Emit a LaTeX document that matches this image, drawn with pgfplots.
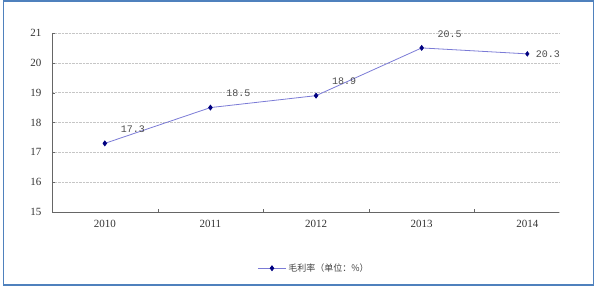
\documentclass[border=0pt]{standalone}
\usepackage{pgfplots}
\pgfplotsset{compat=1.18}
\usepackage{fontspec}
\setmainfont{Liberation Serif}
\setmonofont{Liberation Mono}
\newfontfamily\cjk{Noto Sans CJK SC}
\definecolor{framec}{HTML}{4F81BD}
\definecolor{linec}{HTML}{7B7BD6}
\definecolor{markc}{HTML}{000080}
\begin{document}
\begin{tikzpicture}[x=1pt,y=1pt]
\path (0,0) rectangle (600,288);
\draw[framec, line width=1.5pt] (3.5,3) rectangle (593.5,287);
\begin{axis}[
  name=ax,
  at={(52pt,76pt)}, anchor=south west,
  scale only axis,
  width=507pt, height=179pt,
  xmin=-0.5, xmax=4.3,
  ymin=15, ymax=21,
  xtick={0,1,2,3,4},
  xticklabels={2010,2011,2012,2013,2014},
  minor xtick={0.5,1.5,2.5,3.5},
  ytick={15,16,17,18,19,20,21},
  axis x line*=bottom,
  axis y line*=left,
  axis line style={draw=gray!80!black, line width=0.8pt},
  tick align=inside,
  major tick length=3pt,
  minor tick length=3pt,
  x tick style={draw=none},
  minor x tick style={draw=gray!80!black},
  y tick style={draw=gray!80!black},
  ymajorgrids,
  major grid style={densely dotted, gray!45, line width=0.6pt},
  tick label style={font=\fontsize{11}{12}\selectfont, text=black!80},
  /pgf/number format/assume math mode=true,
  xticklabel style={yshift=-5pt},
  yticklabel style={xshift=-7pt},
  clip=false,
  legend style={at={(0.517,-0.265)}, anchor=north, draw=none, fill=none,
    font=\cjk\fontsize{9}{10}\selectfont, text=black!75},
  legend image code/.code={
    \draw[#1, mark=none] (0pt,0pt) -- (28pt,0pt);
    \draw[#1, only marks] plot coordinates {(14pt,0pt)};
  },
]
\addplot[color=linec, line width=0.8pt,
  mark=diamond*, mark size=2.4pt, mark options={draw=markc, fill=markc},
  nodes near coords,
  point meta=explicit symbolic,
  every node near coord/.append style={font=\ttfamily\fontsize{10}{10}\selectfont, text=black!70, anchor=center, xshift=28pt, yshift=14pt},
] table[meta=lab] {
x y lab
0 17.3 17.3
1 18.5 18.5
2 18.9 18.9
3 20.5 20.5
};
\addlegendentry{毛利率（单位：\%）}
\addplot[color=linec, line width=0.8pt, forget plot] coordinates {(3,20.5) (4,20.3)};
\addplot[only marks, mark=diamond*, mark size=2.4pt, mark options={draw=markc, fill=markc}, forget plot,
  nodes near coords, point meta=explicit symbolic,
  every node near coord/.append style={font=\ttfamily\fontsize{10}{10}\selectfont, text=black!70, anchor=west, xshift=5pt, yshift=0pt}]
  table[meta=lab] {
x y lab
4 20.3 20.3
};
\end{axis}
\end{tikzpicture}
\end{document}
